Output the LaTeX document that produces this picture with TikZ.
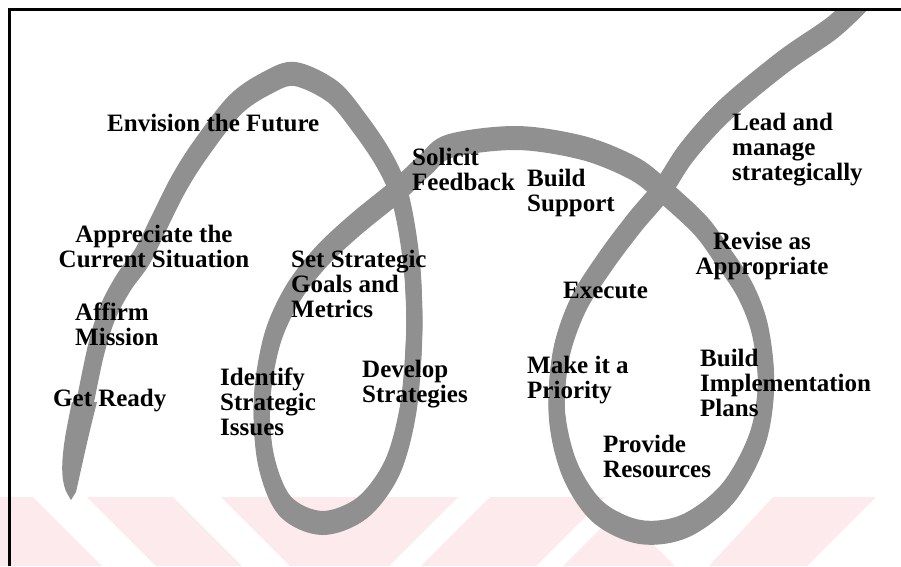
\documentclass[tikz,border=0pt]{standalone}
\usepackage{fontspec}
\setmainfont{Liberation Serif}
\definecolor{ribbongray}{RGB}{144,144,144}
\definecolor{wmpink}{RGB}{252,234,237}
\begin{document}
\begin{tikzpicture}[x=1pt,y=-1pt,
  lbl/.style={font=\bfseries\fontsize{25}{25}\selectfont, inner sep=0pt,
              anchor=base west, align=left, text=black},
  lblc/.style={lbl, align=center, anchor=base},
  ribbon/.style={draw=ribbongray, line width=16pt, line cap=butt, line join=round},
  wm/.style={fill=wmpink, draw=none},
  frame/.style={draw=black, line width=2.6pt}]
\useasboundingbox (0,0) rectangle (901,566);

% faint chevron band along the bottom
\fill[wm] (0,497) -- (33,497) -- (102,566) -- (0,566) -- cycle;
\fill[wm] (87,497) -- (173,497) -- (242,566) -- (156,566) -- cycle;
\fill[wm] (221,497) -- (458,497) -- (389,566) -- (290,566) -- cycle;
\fill[wm] (490,497) -- (605,497) -- (536,566) -- (421,566) -- cycle;
\fill[wm] (563,566) -- (619,510) -- (675,566) -- cycle;
\fill[wm] (773,497) -- (876,497) -- (807,566) -- (709,566) -- cycle;

% the looping ribbon, drawn with a tall flat pen
\begin{scope}
  \clip (0,9.5) rectangle (901,566);
  \foreach \d in {-4,0,4}{
    \begin{scope}[yshift=\d pt]
      \draw[ribbon] plot[smooth, tension=0.55] coordinates {
        (84,408) (96,350) (108,312) (124,282) (142,257) (158,225) (178,185)
        (200,150) (235,105) (267,83) (295,74) (333,92) (360,124) (383,158)
        (398,190) (407,230) (413,280) (414,340) (408,410) (392,468) (362,508)
        (322,523) (285,506) (266,460) (262,400) (272,340) (292,295) (320,258)
        (355,225) (398,190) (425,165) (450,146) (517,138) (583,148) (633,168)
        (662,190) (700,225) (722,255) (745,290) (760,330) (766,385) (757,440)
        (728,493) (685,526) (640,532) (598,512) (570,470) (557,415) (561,355)
        (578,305) (605,262) (635,222) (662,190) (687,152) (725,110) (783,62)
        (832,28) (862,0)};
    \end{scope}
  }
  % pointed tail at the start of the ribbon
  \fill[ribbongray] (72,402) .. controls (66,430) and (60,460) .. (63,480)
    .. controls (65,490) .. (71,500) -- (76,492)
    .. controls (80,475) and (86,445) .. (97,402) -- cycle;
\end{scope}

% frame
\draw[frame] (9.5,566) -- (9.5,9.5) -- (901,9.5);

% stage labels (each anchored on the baseline of its last line)
\node[lbl] (envision) at (107,131) {Envision the Future};
\node[lblc] (appreciate) at (154,267) {Appreciate the\\Current Situation};
\node[lbl] (affirm) at (75,345) {Affirm\\Mission};
\node[lbl] (ready) at (53,406) {Get Ready};
\node[lbl] (identify) at (220,435) {Identify\\Strategic\\Issues};
\node[lbl] (goals) at (291,317) {Set Strategic\\Goals and\\Metrics};
\node[lbl] (develop) at (362,402) {Develop\\Strategies};
\node[lbl] (solicit) at (412,190) {Solicit\\Feedback};
\node[lbl] (support) at (527,211) {Build\\Support};
\node[lbl] (lead) at (732,180) {Lead and\\manage\\strategically};
\node[lblc] (revise) at (762,274) {Revise as\\Appropriate};
\node[lbl] (execute) at (563,298) {Execute};
\node[lbl] (priority) at (527,398) {Make it a\\Priority};
\node[lbl] (plans) at (700,416) {Build\\Implementation\\Plans};
\node[lbl] (resources) at (603,477) {Provide\\Resources};
\end{tikzpicture}
\end{document}
